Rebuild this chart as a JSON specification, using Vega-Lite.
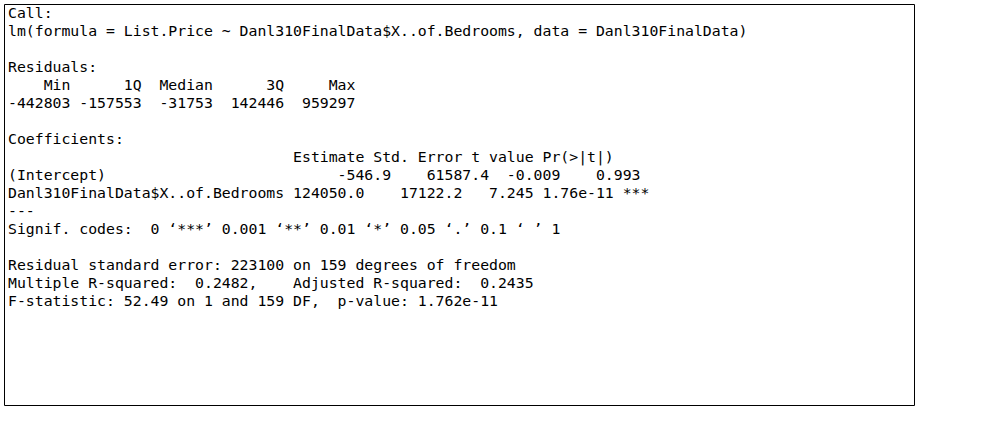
{
  "$schema": "https://vega.github.io/schema/vega-lite/v6.json",
  "width": 910,
  "height": 401,
  "padding": {"left": 4, "top": 4, "right": 88, "bottom": 17},
  "autosize": "none",
  "background": "white",
  "config": {"view": {"stroke": "black", "strokeWidth": 1}},
  "data": {
    "values": [
      {"line": 0, "col": 0, "text": "Call:"},
      {"line": 1, "col": 0, "text": "lm(formula = List.Price ~ Danl310FinalData$X..of.Bedrooms, data = Danl310FinalData)"},
      {"line": 3, "col": 0, "text": "Residuals:"},
      {"line": 4, "col": 0, "text": "\u200b\u00a0\u00a0\u00a0\u00a0Min\u00a0\u00a0\u00a0\u00a0\u00a0\u00a01Q\u00a0\u00a0Median\u00a0\u00a0\u00a0\u00a0\u00a0\u00a03Q\u00a0\u00a0\u00a0\u00a0\u00a0Max"},
      {"line": 5, "col": 0, "text": "-442803\u00a0-157553\u00a0\u00a0-31753\u00a0\u00a0142446\u00a0\u00a0959297"},
      {"line": 7, "col": 0, "text": "Coefficients:"},
      {"line": 8, "col": 0, "text": "\u200b\u00a0\u00a0\u00a0\u00a0\u00a0\u00a0\u00a0\u00a0\u00a0\u00a0\u00a0\u00a0\u00a0\u00a0\u00a0\u00a0\u00a0\u00a0\u00a0\u00a0\u00a0\u00a0\u00a0\u00a0\u00a0\u00a0\u00a0\u00a0\u00a0\u00a0\u00a0\u00a0Estimate\u00a0Std.\u00a0Error\u00a0t\u00a0value\u00a0Pr(>|t|)"},
      {"line": 9, "col": 0, "text": "(Intercept)\u00a0\u00a0\u00a0\u00a0\u00a0\u00a0\u00a0\u00a0\u00a0\u00a0\u00a0\u00a0\u00a0\u00a0\u00a0\u00a0\u00a0\u00a0\u00a0\u00a0\u00a0\u00a0\u00a0\u00a0\u00a0\u00a0-546.9\u00a0\u00a0\u00a0\u00a061587.4\u00a0\u00a0-0.009\u00a0\u00a0\u00a0\u00a00.993"},
      {"line": 10, "col": 0, "text": "Danl310FinalData$X..of.Bedrooms\u00a0124050.0\u00a0\u00a0\u00a0\u00a017122.2\u00a0\u00a0\u00a07.245\u00a01.76e-11\u00a0***"},
      {"line": 11, "col": 0, "text": "---"},
      {"line": 12, "col": 0, "text": "Signif.\u00a0codes:\u00a0\u00a00\u00a0\u2018***\u2019\u00a00.001\u00a0\u2018**\u2019\u00a00.01\u00a0\u2018*\u2019\u00a00.05\u00a0\u2018.\u2019\u00a00.1\u00a0\u2018\u00a0\u2019\u00a01"},
      {"line": 14, "col": 0, "text": "Residual standard error: 223100 on 159 degrees of freedom"},
      {"line": 15, "col": 0, "text": "Multiple\u00a0R-squared:\u00a0\u00a00.2482,\u00a0\u00a0\u00a0\u00a0Adjusted\u00a0R-squared:\u00a0\u00a00.2435"},
      {"line": 16, "col": 0, "text": "F-statistic:\u00a052.49\u00a0on\u00a01\u00a0and\u00a0159\u00a0DF,\u00a0\u00a0p-value:\u00a01.762e-11"}
    ]
  },
  "mark": {
    "type": "text",
    "align": "left",
    "baseline": "middle",
    "font": "DejaVu Sans Mono",
    "fontSize": 14.8,
    "color": "black",
    "dx": 4
  },
  "encoding": {
    "x": {"field": "col", "type": "quantitative", "scale": {"domain": [0, 1], "nice": false, "zero": false}, "axis": null},
    "y": {"field": "line", "type": "quantitative", "scale": {"domain": [-0.556, 21.72], "nice": false, "zero": false, "reverse": true}, "axis": null},
    "text": {"field": "text"}
  }
}
